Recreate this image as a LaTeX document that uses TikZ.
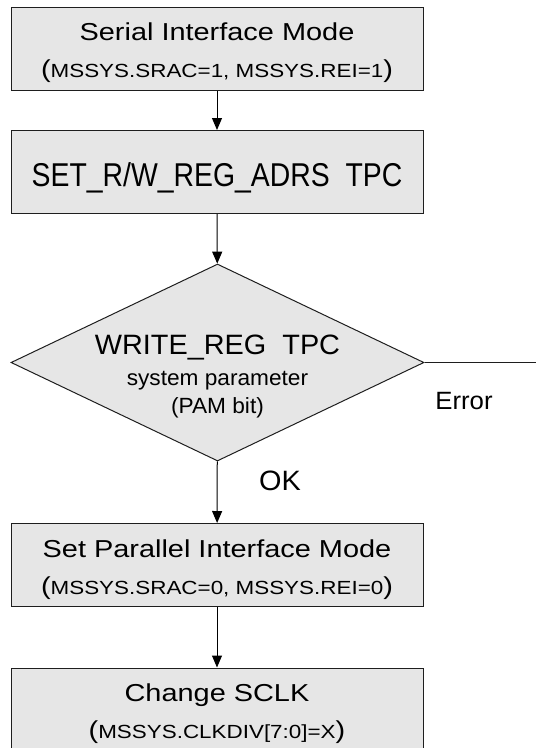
\documentclass[tikz,border=0pt]{standalone}
\usepackage{fontspec}
\setmainfont{Liberation Sans}
\newfontfamily\boxfont[FakeStretch=1.18]{Liberation Sans}
\newfontfamily\tpcfont[FakeStretch=0.86]{Liberation Sans}
\newfontfamily\decfont[FakeStretch=1.03]{Liberation Sans}
\usepackage{tikz}
\usetikzlibrary{shapes.geometric, arrows.meta}
\definecolor{flowfill}{HTML}{E6E6E6}
\definecolor{flowline}{HTML}{1E1E1E}
\newcommand\regtext[1]{{\fontsize{19}{37}\selectfont #1}}
\newcommand\topstrut[1]{\rule{0pt}{#1}}
\newcommand\botstrut[1]{\rule[-#1]{0pt}{#1}}

\begin{document}
\begin{tikzpicture}[x=1pt, y=-1pt,
    procbox/.style={rectangle, draw=flowline, fill=flowfill, line width=1pt, minimum width=412pt, minimum height=83pt, inner sep=0pt, align=center, font=\boxfont\fontsize{24.5}{37}\selectfont},
    decision/.style={diamond, draw=flowline, fill=flowfill, line width=1pt, minimum width=413pt, minimum height=197pt, inner sep=0pt, aspect=2.1},
    flow/.style={-{Triangle[length=12pt,width=10pt]}, line width=1pt},
    lbl/.style={font=\decfont\fontsize{25}{28}\selectfont}
]
\useasboundingbox (0,0) rectangle (536,748);

\node[procbox] (serial) at (217,48.5) {\topstrut{27pt}Serial Interface Mode\\(\regtext{MSSYS.SRAC=1, MSSYS.REI=1})\botstrut{6pt}};
\node[procbox, font=\tpcfont\fontsize{33}{36}\selectfont] (setadr) at (217,172) {\topstrut{36pt}SET\_R/W\_REG\_ADRS\ \ TPC\botstrut{7pt}};
\node[decision] (wreg) at (217.5,362.5) {};
\node[align=center, inner sep=0pt, font=\decfont\fontsize{28}{31}\selectfont] (wregtext) at (217.5,373.5) {\topstrut{26pt}WRITE\_REG\ \ TPC\\{\fontsize{22}{24}\selectfont system parameter}\\[-3pt]{\fontsize{22}{24}\selectfont (PAM bit)}\botstrut{6pt}};
\node[procbox] (parallel) at (217,565) {\topstrut{27pt}Set Parallel Interface Mode\\(\regtext{MSSYS.SRAC=0, MSSYS.REI=0})\botstrut{6pt}};
\node[procbox] (sclk) at (217,709.5) {\topstrut{27pt}Change SCLK\\(\regtext{MSSYS.CLKDIV[7:0]=X})\botstrut{6pt}};

\coordinate (errend) at (536,362.5);
\node[lbl] (errlbl) at (464,401) {Error};
\node[lbl, font=\decfont\fontsize{28}{30}\selectfont] (oklbl) at (280,481) {OK};

\draw[flow] (serial) -- (setadr);
\draw[flow] (setadr) -- (wreg);
\draw[flow] (wreg) -- (parallel);
\draw[flow] (parallel) -- (sclk);
\draw[line width=1pt, draw=flowline] (wreg.east) -- (errend);
\end{tikzpicture}
\end{document}
